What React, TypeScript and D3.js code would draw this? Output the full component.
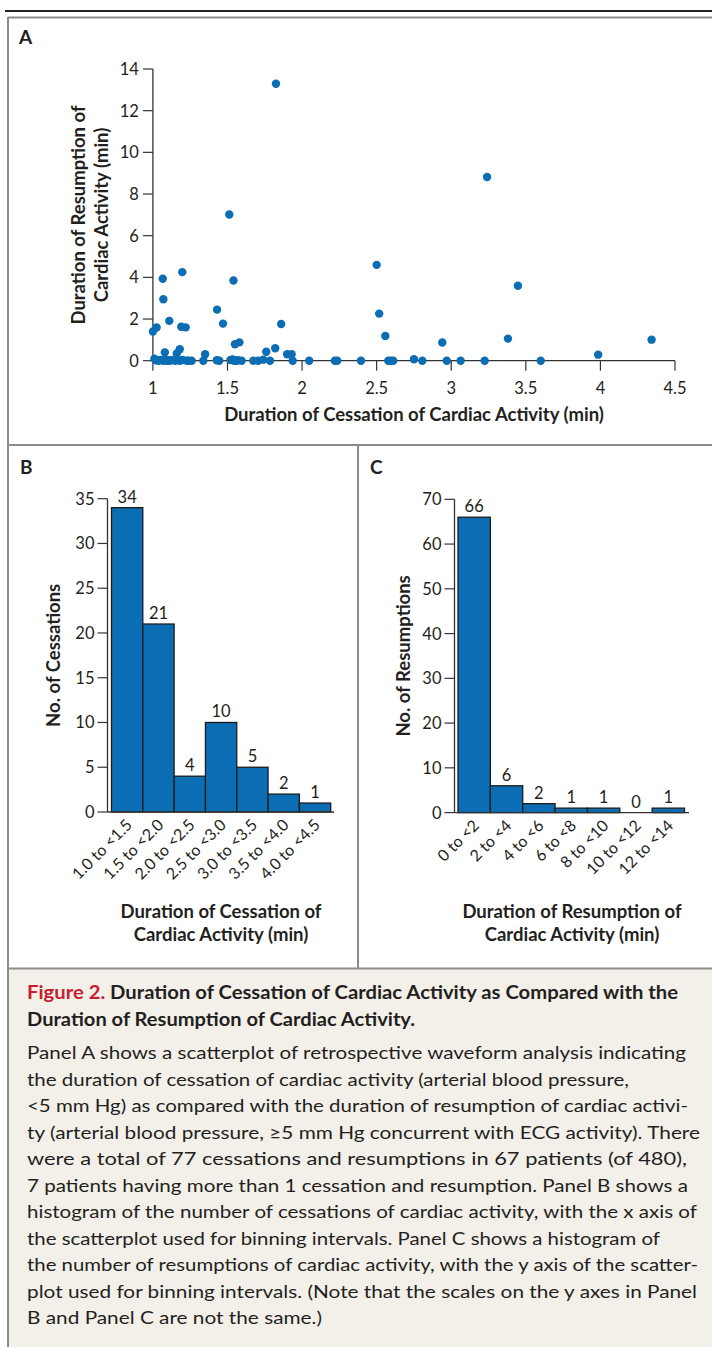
import React from "react";
import * as d3 from "d3";

// ---------- DATA ----------
const scatterX: number[] = [
  1.0, 1.025, 1.066, 1.07, 1.11, 1.197, 1.19, 1.22, 1.43, 1.47, 1.08, 1.18, 1.16, 1.35, 1.01,
  1.02, 1.036, 1.05, 1.07, 1.08, 1.092, 1.1, 1.115, 1.13, 1.15, 1.16, 1.18, 1.2, 1.227, 1.24, 1.26, 1.338, 1.428, 1.445,
  1.512, 1.54, 1.55, 1.58, 1.825, 1.86, 1.76, 1.82, 1.9, 1.93,
  1.52, 1.535, 1.545, 1.56, 1.57, 1.595, 1.673, 1.706, 1.74, 1.785, 1.937,
  2.048, 2.22, 2.236, 2.395,
  2.5, 2.517, 2.558, 2.578, 2.595, 2.611, 2.75, 2.806, 2.94, 2.97,
  3.063, 3.224, 3.24, 3.38, 3.447,
  3.6, 3.985,
  4.343,
];
const scatterY: number[] = [
  1.4, 1.59, 3.93, 2.95, 1.91, 4.25, 1.63, 1.6, 2.45, 1.78, 0.4, 0.55, 0.35, 0.31, 0.1,
  0.02, 0, 0.03, 0, 0.05, 0, 0.02, 0, 0.04, 0, 0.06, 0, 0.03, 0, 0, 0, 0, 0.02, 0,
  7.02, 3.85, 0.79, 0.88, 13.29, 1.76, 0.43, 0.6, 0.31, 0.31,
  0.03, 0.06, 0, 0, 0.02, 0, 0, 0, 0.05, 0, 0,
  0, 0, 0, 0,
  4.6, 2.26, 1.19, 0, 0, 0, 0.07, 0, 0.87, 0,
  0, 0, 8.82, 1.06, 3.6,
  0, 0.29,
  1.01,
];
const scatterXTicks = [1, 1.5, 2, 2.5, 3, 3.5, 4, 4.5];
const scatterYTicks = [0, 2, 4, 6, 8, 10, 12, 14];

const binsB = ["1.0 to <1.5", "1.5 to <2.0", "2.0 to <2.5", "2.5 to <3.0", "3.0 to <3.5", "3.5 to <4.0", "4.0 to <4.5"];
const countsB = [34, 21, 4, 10, 5, 2, 1];
const ticksB = [0, 5, 10, 15, 20, 25, 30, 35];

const binsC = ["0 to <2", "2 to <4", "4 to <6", "6 to <8", "8 to <10", "10 to <12", "12 to <14"];
const countsC = [66, 6, 2, 1, 1, 0, 1];
const ticksC = [0, 10, 20, 30, 40, 50, 60, 70];

const titleRed = "Figure 2.";
const titleLines = [
  "Duration of Cessation of Cardiac Activity as Compared with the",
  "Duration of Resumption of Cardiac Activity.",
];
const captionLines = [
  "Panel A shows a scatterplot of retrospective waveform analysis indicating",
  "the duration of cessation of cardiac activity (arterial blood pressure,",
  "<5 mm Hg) as compared with the duration of resumption of cardiac activi-",
  "ty (arterial blood pressure, \u22655 mm Hg concurrent with ECG activity). There",
  "were a total of 77 cessations and resumptions in 67 patients (of 480),",
  "7 patients having more than 1 cessation and resumption. Panel B shows a",
  "histogram of the number of cessations of cardiac activity, with the x axis of",
  "the scatterplot used for binning intervals. Panel C shows a histogram of",
  "the number of resumptions of cardiac activity, with the y axis of the scatter-",
  "plot used for binning intervals. (Note that the scales on the y axes in Panel",
  "B and Panel C are not the same.)",
];

// ---------- LAYOUT ----------
const W = 712;
const H = 1347;
const FONT = "Lato, 'Open Sans', sans-serif";
const TXT = "#231f20";
const BLUE = "#0b6db3";
const BORDER = "#8c8c8c";
const TICK_FS = 16.5;
const ROT_FS = 16;
const TITLE_FS = 18.5;
const captionRightEnds = [686, 629, 688, 700, 687, 688, 697, 660, 698, 697, 322];
const titleRightEnds = [678, 415];

function Histogram(props: {
  bins: string[];
  counts: number[];
  ticks: number[];
  yMax: number;
  x0: number;
  x1: number;
  axisX: number;
  axisEnd: number;
  yBottom: number;
  yTop: number;
  yTitle: string;
  yTitleX: number;
  xTitle: string[];
  xTitleCX: number;
}) {
  const { bins, counts, ticks, yMax, x0, x1, axisX, axisEnd, yBottom, yTop } = props;
  const x = d3.scaleBand<string>().domain(bins).range([x0, x1]).paddingInner(0).paddingOuter(0);
  const y = d3.scaleLinear().domain([0, yMax]).range([yBottom, yTop]);
  const yMid = (yBottom + yTop) / 2;
  return (
    <g fontFamily={FONT} fill={TXT}>
      {bins.map((b, i) =>
        counts[i] > 0 ? (
          <rect
            key={b}
            x={x(b)!}
            y={y(counts[i])}
            width={x.bandwidth()}
            height={yBottom - y(counts[i])}
            fill={BLUE}
            stroke="#1c1c1c"
            strokeWidth={1.3}
          />
        ) : null
      )}
      {bins.map((b, i) => (
        <text key={"v" + b} x={x(b)! + x.bandwidth() / 2} y={y(counts[i]) - 5} textAnchor="middle" fontSize={TICK_FS}>
          {counts[i]}
        </text>
      ))}
      <line x1={axisX} x2={axisX} y1={yTop} y2={yBottom} stroke="#333" strokeWidth={1.3} />
      <line x1={axisX} x2={axisEnd} y1={yBottom} y2={yBottom} stroke="#333" strokeWidth={1.3} />
      {ticks.map((t) => (
        <g key={"t" + t}>
          <line x1={axisX - 10} x2={axisX} y1={y(t)} y2={y(t)} stroke="#333" strokeWidth={1.2} />
          <text x={axisX - 13} y={y(t) + 6} textAnchor="end" fontSize={TICK_FS}>
            {t}
          </text>
        </g>
      ))}
      {bins.map((b) => (
        <text
          key={"l" + b}
          transform={`translate(${x(b)! + x.bandwidth() / 2 + 6},${yBottom + 14}) rotate(-45)`}
          textAnchor="end"
          fontSize={ROT_FS}
        >
          {b}
        </text>
      ))}
      <text
        transform={`translate(${props.yTitleX},${yMid}) rotate(-90)`}
        textAnchor="middle"
        fontSize={TITLE_FS}
        fontWeight="bold"
      >
        {props.yTitle}
      </text>
      {props.xTitle.map((t, i) => (
        <text key={t} x={props.xTitleCX} y={918 + i * 23} textAnchor="middle" fontSize={TITLE_FS} fontWeight="bold">
          {t}
        </text>
      ))}
    </g>
  );
}

export default function App() {
  const xA = d3.scaleLinear().domain([1, 4.5]).range([152.9, 675]);
  const yA = d3.scaleLinear().domain([0, 14]).range([360.7, 69]);
  const points = scatterX.map((v, i) => [v, scatterY[i]]);

  return (
    <svg
      width={W}
      height={H}
      viewBox={`0 0 ${W} ${H}`}
      style={{ position: "absolute", left: 0, top: 0, background: "#fff" }}
      fontFamily={FONT}
    >
      {/* caption background */}
      <rect x={8} y={969} width={W} height={H - 969} fill="#f3f0ea" />
      {/* top rule */}
      <line x1={5} x2={W} y1={11} y2={11} stroke="#222" strokeWidth={2} />
      {/* frames */}
      <line x1={8} x2={W} y1={17.5} y2={17.5} stroke={BORDER} strokeWidth={2} />
      <line x1={8} x2={8} y1={17} y2={H} stroke={BORDER} strokeWidth={2} />
      <line x1={8} x2={W} y1={445} y2={445} stroke={BORDER} strokeWidth={2} />
      <line x1={8} x2={W} y1={968.5} y2={968.5} stroke={BORDER} strokeWidth={2} />
      <line x1={358} x2={358} y1={445} y2={968} stroke={BORDER} strokeWidth={2} />

      {/* panel letters */}
      <g fontWeight="bold" fontSize={19} fill={TXT}>
        <text x={19} y={44}>A</text>
        <text x={20} y={474}>B</text>
        <text x={370} y={474}>C</text>
      </g>

      {/* Panel A */}
      <g fill={TXT}>
        <line x1={xA(1)} x2={xA(1)} y1={yA(14)} y2={yA(0)} stroke="#333" strokeWidth={1.3} />
        <line x1={xA(1)} x2={xA(4.5)} y1={yA(0)} y2={yA(0)} stroke="#333" strokeWidth={1.3} />
        {scatterYTicks.map((t) => (
          <g key={"ya" + t}>
            <line x1={xA(1) - 10} x2={xA(1)} y1={yA(t)} y2={yA(t)} stroke="#333" strokeWidth={1.2} />
            <text x={xA(1) - 14} y={yA(t) + 6} textAnchor="end" fontSize={TICK_FS}>
              {t}
            </text>
          </g>
        ))}
        {scatterXTicks.map((t) => (
          <g key={"xa" + t}>
            <line x1={xA(t)} x2={xA(t)} y1={yA(0)} y2={yA(0) + 10} stroke="#333" strokeWidth={1.2} />
            <text x={xA(t)} y={yA(0) + 33} textAnchor="middle" fontSize={TICK_FS}>
              {t}
            </text>
          </g>
        ))}
        {points.map((p, i) => (
          <circle key={i} cx={xA(p[0])} cy={yA(p[1])} r={4.2} fill={BLUE} />
        ))}
        <text x={414} y={421} textAnchor="middle" fontSize={TITLE_FS} fontWeight="bold">
          Duration of Cessation of Cardiac Activity (min)
        </text>
        <text transform={`translate(85,215) rotate(-90)`} textAnchor="middle" fontSize={TITLE_FS} fontWeight="bold">
          Duration of Resumption of
        </text>
        <text transform={`translate(108,215) rotate(-90)`} textAnchor="middle" fontSize={TITLE_FS} fontWeight="bold">
          Cardiac Activity (min)
        </text>
      </g>

      {/* Panel B */}
      <Histogram
        bins={binsB}
        counts={countsB}
        ticks={ticksB}
        yMax={35}
        x0={111.5}
        x1={330.7}
        axisX={107.5}
        axisEnd={334}
        yBottom={812}
        yTop={498.7}
        yTitle="No. of Cessations"
        yTitleX={60}
        xTitle={["Duration of Cessation of", "Cardiac Activity (min)"]}
        xTitleCX={221}
      />

      {/* Panel C */}
      <Histogram
        bins={binsC}
        counts={countsC}
        ticks={ticksC}
        yMax={70}
        x0={458}
        x1={684.5}
        axisX={454.5}
        axisEnd={689}
        yBottom={812.6}
        yTop={499.3}
        yTitle="No. of Resumptions"
        yTitleX={410}
        xTitle={["Duration of Resumption of", "Cardiac Activity (min)"]}
        xTitleCX={572}
      />

      {/* Caption */}
      <g fontSize={18} fill={TXT}>
        {titleLines.map((t, i) => (
          <text
            key={"tt" + i}
            x={27}
            y={999 + i * 27}
            fontWeight="bold"
            textLength={titleRightEnds[i] - 27}
            lengthAdjust="spacingAndGlyphs"
          >
            {i === 0 ? <tspan fill="#c8202f">{titleRed} </tspan> : null}
            {t}
          </text>
        ))}
        {captionLines.map((t, i) => (
          <text
            key={"cl" + i}
            x={27}
            y={1059 + i * 26.5}
            textLength={captionRightEnds[i] - 27}
            lengthAdjust="spacingAndGlyphs"
          >
            {t}
          </text>
        ))}
      </g>
    </svg>
  );
}
